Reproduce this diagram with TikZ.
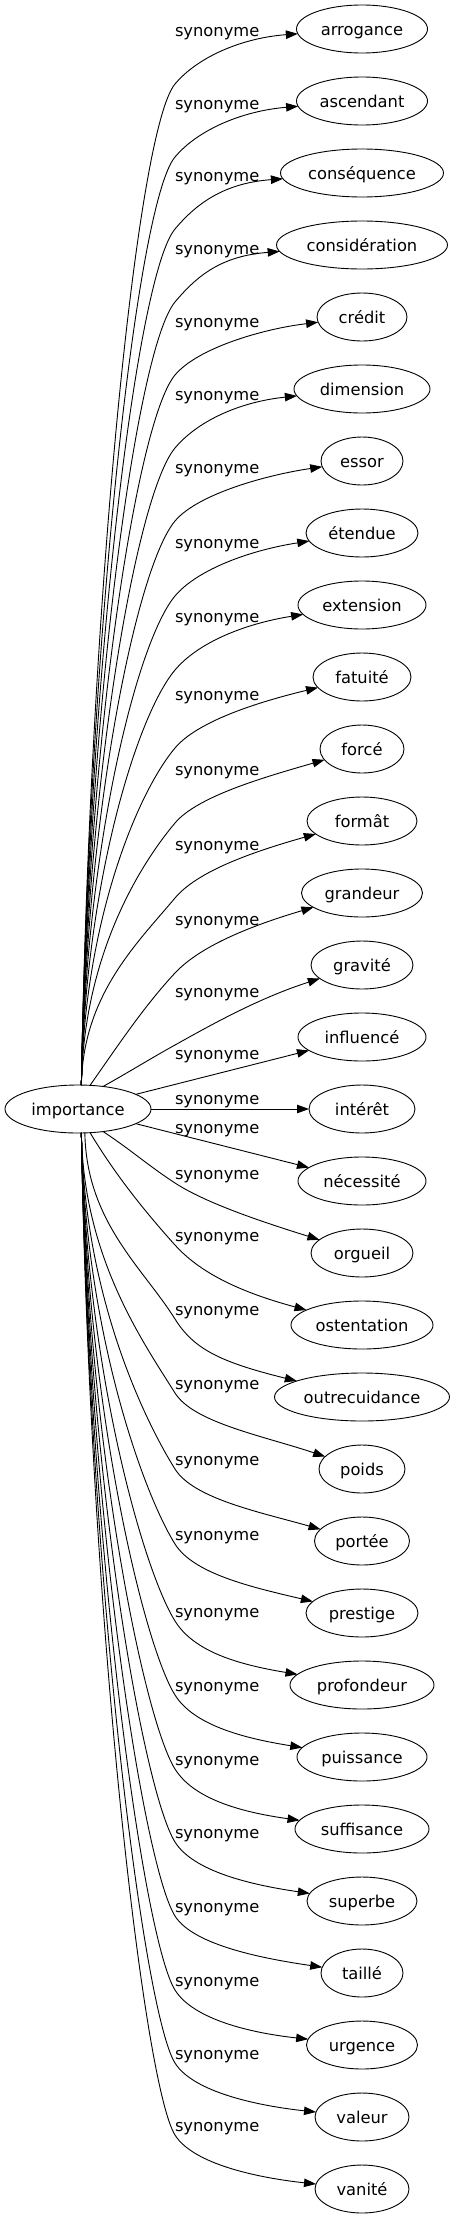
\documentclass[tikz,border=0pt]{standalone}
\usepackage{fontspec}
\setmainfont{DejaVu Sans}
\usetikzlibrary{shapes.geometric,arrows.meta,calc}
\newcommand\curveedge[9]{%
  \draw[edge] (imp.#2) .. controls ($(imp.#2)+({#3}:{#4})$) and ($(175,{-(#5)})+({#6+180}:{#7})$) .. (175,{-(#5)}) .. controls ($(175,{-(#5)})+({#6}:35)$) and ({#8},{-(#9)}) .. (#1);}
\newcommand\topE[3]{\curveedge{#1}{82}{89}{0.48*(1031-#2)}{#2+54}{50}{60}{307-#3}{#2+8}}
\newcommand\botE[3]{\curveedge{#1}{-82}{-89}{0.48*(#2-1123)}{#2+10}{-58}{60}{307-#3}{#2+53}}
\begin{document}
\begin{tikzpicture}[x=1pt,y=1pt,
  font=\fontsize{16.3}{19}\selectfont,
  syn/.style={ellipse,draw,line width=0.9pt,inner sep=0pt,outer sep=0pt,minimum height=48pt,text height=15pt,text depth=3pt},
  lbl/.style={inner sep=0pt,outer sep=0pt,anchor=base west},
  edge/.style={line width=0.9pt,-{Triangle[length=12pt,width=8.5pt]}}]
\useasboundingbox (0,0) rectangle (455,-2219);
\fill[white] (0,0) rectangle (455,-2219);
\node[syn,minimum width=146pt] (imp) at (78,-1109) {importance};
\foreach \i/\t/\w in {0/arrogance/131,1/ascendant/131,2/conséquence/163,3/considération/171,4/crédit/90,5/dimension/136,6/essor/82,7/étendue/112,8/extension/128,9/fatuité/98,10/forcé/84,11/formât/110,12/grandeur/121,13/gravité/102,14/influencé/128,15/intérêt/106,16/nécessité/128,17/orgueil/102,18/ostentation/142,19/outrecuidance/175,20/poids/86,21/portée/95,22/prestige/112,23/profondeur/144,24/puissance/130,25/suffisance/134,26/superbe/110,27/taillé/82,28/urgence/111,29/valeur/94,30/vanité/94}
  \node[syn,minimum width=\w pt] (n\i) at (362,{-(29+72*\i)}) {\t};
\foreach \i/\l in {0/30,1/103,2/175,3/248,4/321,5/394,6/467,7/542,8/616,9/694,10/769,11/844,12/919,13/991,14/1053,15/1098,16/1127,17/1173,18/1235,19/1309,20/1383,21/1459,22/1534,23/1611,24/1685,25/1759,26/1832,27/1906,28/1980,29/2053,30/2125}
  \node[lbl] (l\i) at (175,{-(\l+6)}) {synonyme};
\topE{n0}{30}{65.5}
\topE{n1}{103}{65.5}
\topE{n2}{175}{81.5}
\topE{n3}{248}{85.5}
\topE{n4}{321}{45}
\topE{n5}{394}{68}
\topE{n6}{467}{41}
\topE{n7}{542}{56}
\topE{n8}{616}{64}
\topE{n9}{694}{49}
\topE{n10}{769}{42}
\topE{n11}{844}{55}
\curveedge{n12}{63}{55}{49}{973}{47}{45}{246.5}{927}
\curveedge{n13}{42}{29}{29}{1045}{29}{29}{256}{999}
\draw[edge] (imp) -- (n14);
\draw[edge] (imp) -- (n15);
\draw[edge] (imp) -- (n16);
\curveedge{n17}{-42}{-33}{31}{1183}{-33}{31}{256}{1220}
\curveedge{n18}{-63}{-59}{49}{1245}{-48}{45}{236}{1291}
\curveedge{n19}{-74}{-89}{89}{1319}{-58}{60}{219.5}{1362}
\botE{n20}{1383}{43}
\botE{n21}{1459}{47.5}
\botE{n22}{1534}{56}
\botE{n23}{1611}{72}
\botE{n24}{1685}{65}
\botE{n25}{1759}{67}
\botE{n26}{1832}{55}
\botE{n27}{1906}{41}
\botE{n28}{1980}{55.5}
\botE{n29}{2053}{47}
\botE{n30}{2125}{47}
\end{tikzpicture}
\end{document}
